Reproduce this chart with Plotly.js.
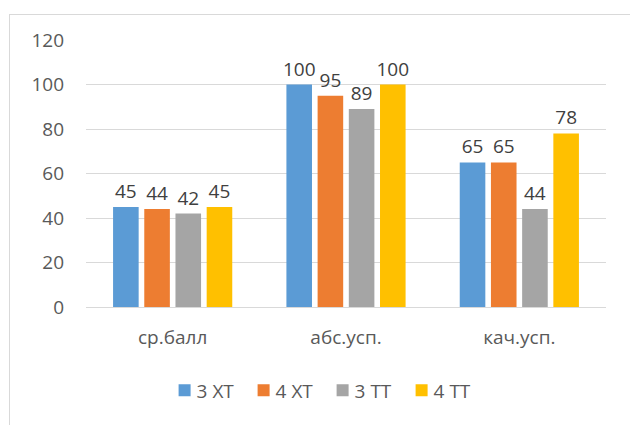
<!DOCTYPE html>
<html><head><meta charset="utf-8">
<script src="https://cdn.plot.ly/plotly-3.0.1.min.js"></script>
<style>
html,body{margin:0;padding:0;background:#fff;}
#chart{width:630px;height:425px;position:absolute;left:0;top:0;}
#frame{position:absolute;left:9px;top:14px;width:640px;height:440px;border:1px solid #d9d9d9;pointer-events:none;}
</style></head>
<body>
<div id="chart"></div>
<div id="frame"></div>
<script>
const categories = ['ср.балл', 'абс.усп.', 'кач.усп.'];
const seriesNames = ['3 ХТ', '4 ХТ', '3 ТТ', '4 ТТ'];
const s3XT = [45, 100, 65];
const s4XT = [44, 95, 65];
const s3TT = [42, 89, 44];
const s4TT = [45, 100, 78];
const colors = ['#5B9BD5', '#ED7D31', '#A5A5A5', '#FFC000'];
const yTicks = [0, 20, 40, 60, 80, 100, 120];

const font = "'Open Sans', 'Liberation Sans', sans-serif";
const data = [s3XT, s4XT, s3TT, s4TT].map((vals, i) => ({
  type: 'bar', x: categories, y: vals, name: seriesNames[i],
  marker: {color: colors[i]},
  text: vals.map(String), textposition: 'outside', cliponaxis: false,
  constraintext: 'none',
  textfont: {family: font, size: 19, color: '#404040'}
}));

const layout = {
  width: 630, height: 425,
  margin: {l: 86, r: 24, t: 40, b: 118},
  paper_bgcolor: '#fff', plot_bgcolor: '#fff',
  barmode: 'group', bargap: 0.28, bargroupgap: 0.18,
  font: {family: font, color: '#595959'},
  xaxis: {tickfont: {size: 19, color: '#595959'}, showline: true, linecolor: '#d9d9d9', ticks: '',
          ticklabelstandoff: 13},
  yaxis: {range: [0, 120], tickvals: yTicks, ticktext: yTicks.map(String), tickfont: {size: 19, color: '#595959'},
          showgrid: true, gridcolor: '#d9d9d9', zeroline: false, ticks: '', ticklabelstandoff: 21},
  showlegend: true,
  legend: {orientation: 'h', x: 0.455, xanchor: 'center', y: -0.312, yanchor: 'middle',
           font: {size: 19, color: '#595959'}, itemwidth: 30, entrywidth: 34, entrywidthmode: 'pixels',
           traceorder: 'normal'}
};
Plotly.newPlot('chart', data, layout, {displayModeBar: false, staticPlot: true}).then(() => {
  document.querySelectorAll('.legend .legendtext').forEach(t => t.setAttribute('x', 32));
});
</script>
</body></html>
